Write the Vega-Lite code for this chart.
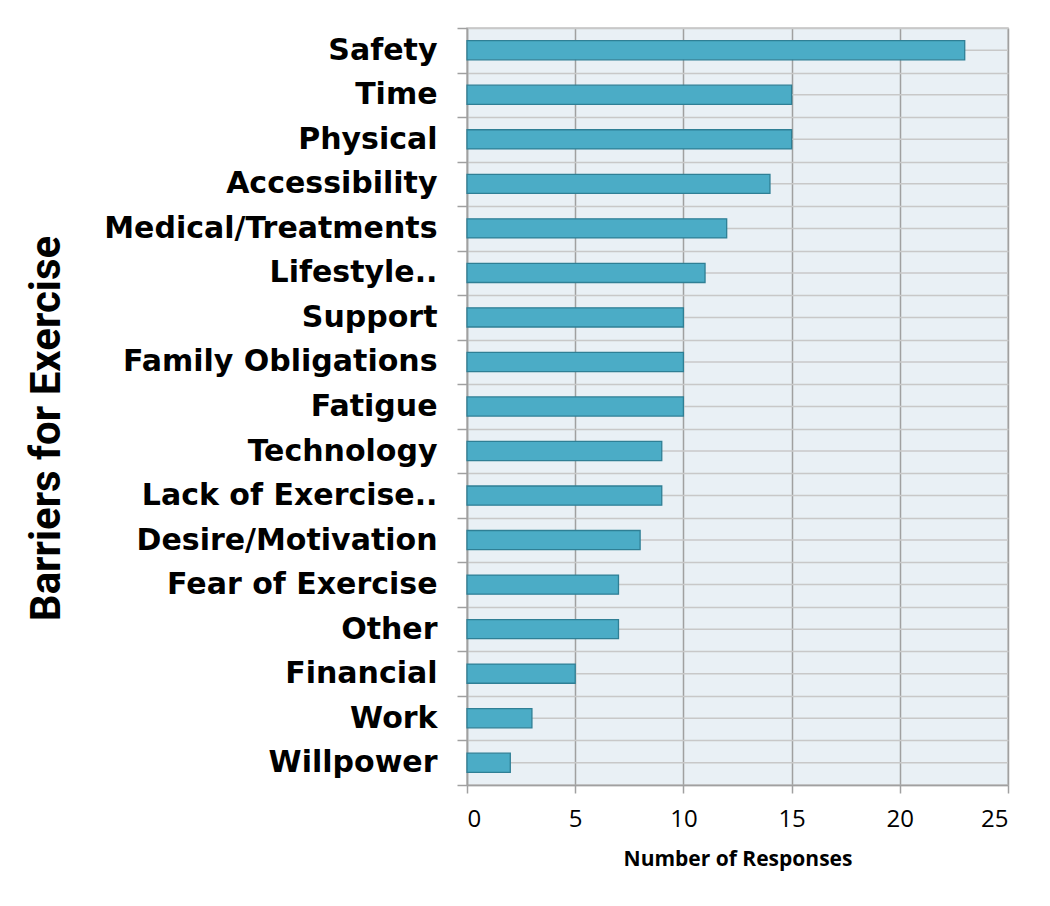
{
  "$schema": "https://vega.github.io/schema/vega-lite/v6.json",
  "autosize": {"type": "none"},
  "width": 541,
  "height": 757,
  "padding": {"left": 467, "top": 28, "right": 42, "bottom": 121},
  "background": "white",
  "config": {
    "view": {"fill": "#e9f0f5", "stroke": "#c4c4c4", "strokeWidth": 1.5}
  },
  "data": {
    "values": [
      {"barrier": "Safety", "responses": 23},
      {"barrier": "Time", "responses": 15},
      {"barrier": "Physical", "responses": 15},
      {"barrier": "Accessibility", "responses": 14},
      {"barrier": "Medical/Treatments", "responses": 12},
      {"barrier": "Lifestyle..", "responses": 11},
      {"barrier": "Support", "responses": 10},
      {"barrier": "Family Obligations", "responses": 10},
      {"barrier": "Fatigue", "responses": 10},
      {"barrier": "Technology", "responses": 9},
      {"barrier": "Lack of Exercise..", "responses": 9},
      {"barrier": "Desire/Motivation", "responses": 8},
      {"barrier": "Fear of Exercise", "responses": 7},
      {"barrier": "Other", "responses": 7},
      {"barrier": "Financial", "responses": 5},
      {"barrier": "Work", "responses": 3},
      {"barrier": "Willpower", "responses": 2}
    ]
  },
  "encoding": {
    "y": {
      "field": "barrier",
      "type": "nominal",
      "sort": null,
      "scale": {"paddingInner": 0, "paddingOuter": 0},
      "axis": {
        "title": "Barriers for Exercise",
        "titleFont": "Roboto",
        "titleFontSize": 42,
        "titleFontWeight": "bold",
        "titleColor": "black",
        "titleAngle": -90,
        "titleBaseline": "bottom",
        "titleAlign": "center",
        "titleX": -399,
        "titleY": 400,
        "labelFont": "DejaVu Sans",
        "labelFontWeight": "bold",
        "labelFontSize": 30,
        "labelColor": "black",
        "labelPadding": 20,
        "labelLimit": 400,
        "tickBand": "extent",
        "tickSize": 10,
        "tickColor": "#a0a0a0",
        "tickWidth": 1.5,
        "domainColor": "#a0a0a0",
        "domainWidth": 1.5,
        "grid": true,
        "gridColor": "#c8c8c8",
        "gridWidth": 1.5
      }
    }
  },
  "layer": [
    {
      "mark": {"type": "rule", "color": "#c8c8c8", "strokeWidth": 1.5},
      "encoding": {}
    },
    {
      "mark": {"type": "bar", "color": "#4bacc6", "stroke": "#2f7f95", "strokeWidth": 1.3, "height": {"band": 0.43}},
      "encoding": {
        "x": {
          "field": "responses",
          "type": "quantitative",
          "scale": {"domain": [0, 25], "nice": false},
          "axis": {
            "values": [0, 5, 10, 15, 20, 25],
            "title": "Number of Responses",
            "titleFont": "Open Sans",
            "titleFontSize": 21,
            "titleFontWeight": "bold",
            "titleColor": "black",
            "titlePadding": 17,
            "labelFont": "Open Sans",
            "labelFontSize": 24,
            "labelColor": "black",
            "labelPadding": 14,
            "tickSize": 8,
            "tickColor": "#a0a0a0",
            "tickWidth": 1.5,
            "domainColor": "#a0a0a0",
            "domainWidth": 1.5,
            "grid": true,
            "gridColor": "#a0a0a0",
            "gridWidth": 1.5
          }
        }
      }
    }
  ]
}
